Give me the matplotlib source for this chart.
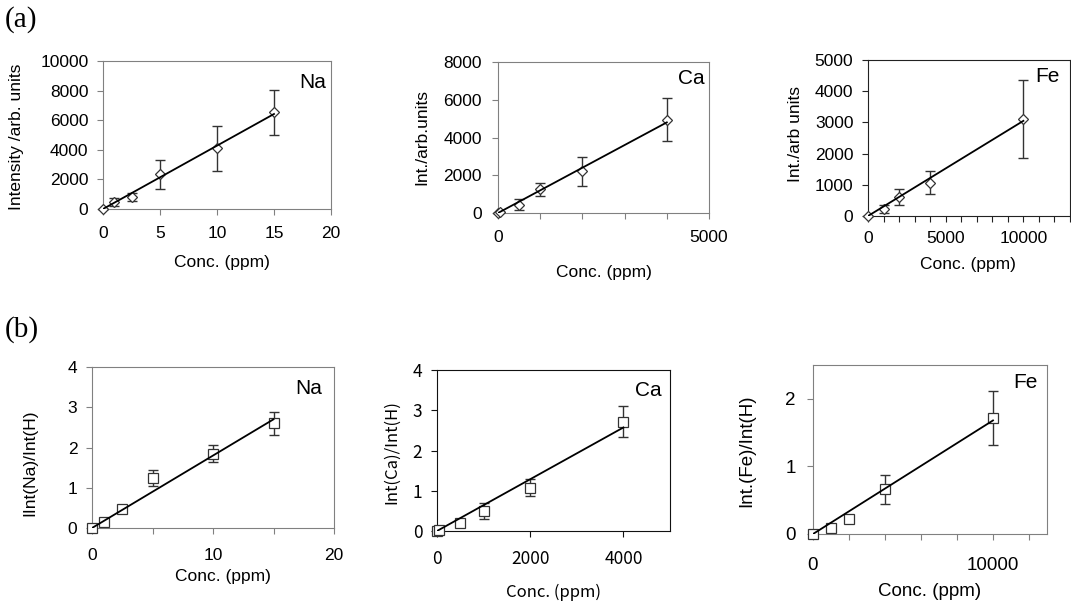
import numpy as np
import matplotlib
matplotlib.use('Agg')
import matplotlib.pyplot as plt

plt.rcParams['font.family'] = ['Liberation Sans', 'DejaVu Sans']

W, H = 1071, 605

# (a) raw intensity
na_x = [0, 1, 2.5, 5, 10, 15]
na_int = [30, 450, 830, 2340, 4100, 6530]
na_int_err = [0, 280, 270, 960, 1540, 1500]
na_int_slope = 428

ca_x = [0, 50, 500, 1000, 2000, 4000]
ca_int = [0, 30, 450, 1250, 2200, 4950]
ca_int_err = [0, 0, 300, 350, 750, 1150]
ca_int_slope = 1.2

fe_x = [0, 1000, 2000, 4000, 10000]
fe_int = [0, 230, 600, 1060, 3100]
fe_int_err = [0, 120, 250, 370, 1250]
fe_int_slope = 0.305

# (b) ratio to H
na_rat = [0, 0.15, 0.48, 1.25, 1.85, 2.6]
na_rat_err = [0, 0.03, 0.03, 0.2, 0.2, 0.29]
na_rat_slope = 0.18

ca_rat = [0, 0.02, 0.19, 0.5, 1.08, 2.72]
ca_rat_err = [0, 0.02, 0.03, 0.2, 0.2, 0.38]
ca_rat_slope = 0.000643

fe_rat = [0, 0.085, 0.22, 0.66, 1.72]
fe_rat_err = [0, 0.03, 0.03, 0.22, 0.4]
fe_rat_slope = 0.000168

fig = plt.figure(figsize=(W / 100, H / 100), dpi=100)


def panel(box, x, y, err, slope, marker, ms, name, frame='#808080'):
    l, r, t, b = box
    ax = fig.add_axes([l / W, 1 - b / H, (r - l) / W, (b - t) / H])
    ax.errorbar(x, y, yerr=err, fmt='none', ecolor='#333333', elinewidth=1,
                capsize=3.5, capthick=1, zorder=2, clip_on=False)
    ax.plot(x, y, linestyle='none', marker=marker, ms=ms, mfc='white',
            mec='#333333', mew=0.9, zorder=3, clip_on=False)
    xf = np.array([0, max(x)])
    ax.plot(xf, slope * xf, color='black', lw=1.3, zorder=4)
    for s in ax.spines.values():
        s.set_color(frame)
    ax.tick_params(direction='out', length=4.5, color=frame, labelsize=12.5)
    ax.box = box
    return ax


def labels(ax, xlab, xc, yc, ylab, ylx, yly, **kw):
    # place axis labels by pixel centres
    l, r, t, b = ax.box
    ax.set_xlabel(xlab, va='center', **kw)
    ax.xaxis.set_label_coords((xc - l) / (r - l), (b - yc) / (b - t))
    ax.set_ylabel(ylab, va='center', **kw)
    ax.yaxis.set_label_coords((ylx - l) / (r - l), (b - yly) / (b - t))


def name_tag(ax, s, px, py):
    l, r, t, b = ax.box
    ax.text((px - l) / (r - l), (b - py) / (b - t), s, transform=ax.transAxes,
            ha='center', va='center', fontsize=15)


# --- (a) ---
ax = panel((103, 331, 61, 209), na_x, na_int, na_int_err, na_int_slope,
           'D', 5, 'Na')
ax.set_xlim(0, 20)
ax.set_ylim(0, 10000)
ax.set_xticks([0, 5, 10, 15, 20])
ax.set_yticks(range(0, 10001, 2000))
ax.tick_params(axis='x', pad=8)
ax.tick_params(axis='y', pad=6)
labels(ax, 'Conc. (ppm)', 222, 263, 'Intensity /arb. units', 17, 137, fontsize=12.5)
name_tag(ax, 'Na', 313, 82)

ax = panel((498, 709, 62, 213), ca_x, ca_int, ca_int_err, ca_int_slope,
           'D', 5, 'Ca')
ax.set_xlim(0, 5000)
ax.set_ylim(0, 8000)
ax.set_xticks(range(0, 5001, 1000))
ax.set_xticklabels(['0', '', '', '', '', '5000'])
ax.tick_params(axis='x', pad=8)
ax.tick_params(axis='y', pad=7)
ax.set_yticks(range(0, 8001, 2000))
labels(ax, 'Conc. (ppm)', 604, 273, 'Int./arb.units', 422, 137, fontsize=12.5)
name_tag(ax, 'Ca', 691, 79)

ax = panel((868, 1070, 60, 216), fe_x, fe_int, fe_int_err, fe_int_slope,
           'D', 5, 'Fe', frame='#222222')
ax.set_xlim(0, 13000)
ax.set_ylim(0, 5000)
ax.set_xticks(range(0, 13001, 1000))
ax.set_xticklabels(['0', '', '', '', '', '5000', '', '', '', '', '10000', '', '', ''])
ax.tick_params(axis='x', pad=6)
ax.tick_params(axis='y', pad=6)
ax.set_yticks(range(0, 5001, 1000))
labels(ax, 'Conc. (ppm)', 968, 265, 'Int./arb units', 795, 134, fontsize=12.5)
name_tag(ax, 'Fe', 1047, 77)

# --- (b) ---
ax = panel((92, 334, 367, 528), na_x, na_rat, na_rat_err, na_rat_slope,
           's', 7, 'Na')
ax.set_xlim(0, 20)
ax.set_ylim(0, 4)
ax.set_xticks([0, 5, 10, 15, 20])
ax.set_xticklabels(['0', '', '10', '', '20'])
ax.set_yticks(range(0, 5))
ax.tick_params(axis='x', pad=10)
ax.tick_params(axis='y', pad=6)
labels(ax, 'Conc. (ppm)', 223, 577, 'IInt(Na)/Int(H)', 30, 463, fontsize=12.5)
name_tag(ax, 'Na', 309, 389)

cjk = ['Noto Sans CJK JP', 'DejaVu Sans']
ax = panel((437, 670, 370, 531), ca_x, ca_rat, ca_rat_err, ca_rat_slope,
           's', 7, 'Ca', frame='#111111')
ax.set_xlim(0, 5000)
ax.set_ylim(0, 4)
ax.set_xticks([0, 2000, 4000])
ax.set_yticks(range(0, 5))
ax.tick_params(axis='x', pad=9)
ax.tick_params(axis='y', pad=6)
for t in ax.get_xticklabels() + ax.get_yticklabels():
    t.set_family(cjk)
    t.set_fontsize(12.5)
labels(ax, 'Conc. (ppm)', 553, 592, 'Int(Ca)/Int(H)', 392, 452,
       fontsize=12, family=cjk)
name_tag(ax, 'Ca', 648, 391)

ax = panel((813, 1047, 365, 534), fe_x, fe_rat, fe_rat_err, fe_rat_slope,
           's', 7, 'Fe')
ax.set_xlim(0, 13000)
ax.set_ylim(0, 2.5)
ax.set_xticks(range(0, 13001, 2000))
ax.set_xticklabels(['0', '', '', '', '', '10000', ''])
ax.tick_params(axis='x', pad=12, labelsize=13.5)
ax.tick_params(axis='y', pad=8, labelsize=13.5)
ax.set_yticks([0, 1, 2])
labels(ax, 'Conc. (ppm)', 930, 592, 'Int.(Fe)/Int(H)', 747, 451, fontsize=13.5)
name_tag(ax, 'Fe', 1025, 383)

fig.text(5 / W, 1 - 20 / H, '(a)', fontsize=21, va='center', ha='left',
         family='Liberation Serif')
fig.text(5 / W, 1 - 330 / H, '(b)', fontsize=21, va='center', ha='left',
         family='Liberation Serif')

fig.savefig('out.png', dpi=100)
